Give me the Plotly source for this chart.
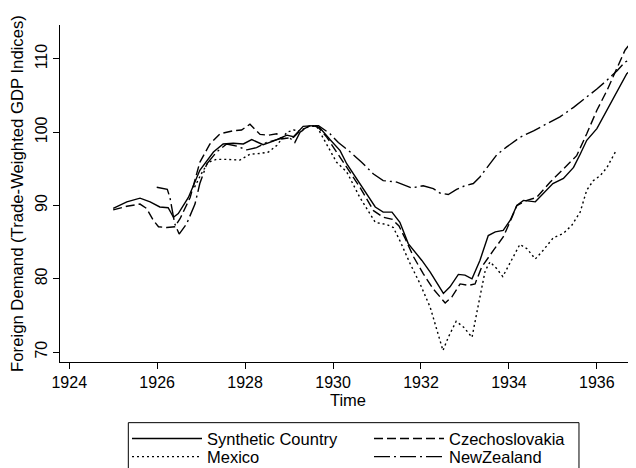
import plotly.graph_objects as go

# ---- data ----
synth_t = [1925.0, 1925.31, 1925.61, 1925.84, 1926.06, 1926.25, 1926.37, 1926.48, 1926.71, 1926.97,
           1927.28, 1927.5, 1927.73, 1927.96, 1928.15, 1928.41, 1928.64, 1928.95, 1929.1, 1929.32,
           1929.55, 1929.7, 1929.93, 1930.16, 1930.31, 1930.61, 1930.96, 1931.14, 1931.34, 1931.52,
           1931.71, 1932.02, 1932.21, 1932.51, 1932.66, 1932.85, 1933.0, 1933.16, 1933.34, 1933.53,
           1933.69, 1933.87, 1934.03, 1934.18, 1934.33, 1934.6, 1934.78, 1935.0, 1935.24, 1935.47,
           1935.62, 1935.77, 1936.0, 1936.23, 1936.46, 1936.68, 1936.9]
synth_v = [89.6, 90.5, 91.0, 90.5, 89.8, 89.7, 88.4, 88.9, 91.1, 94.8,
           97.3, 98.4, 98.5, 98.4, 99.0, 98.3, 98.8, 99.6, 99.4, 100.8,
           100.9, 100.6, 99.0, 97.5, 95.7, 93.0, 89.8, 89.1, 89.1, 87.7,
           84.8, 82.5, 80.9, 78.0, 78.9, 80.6, 80.5, 80.0, 82.5, 85.9,
           86.4, 86.6, 88.0, 90.0, 90.7, 90.5, 91.6, 93.0, 93.7, 95.2,
           97.0, 98.9, 100.5, 103.0, 105.7, 108.0, 109.1]

czech_t = [1925.0, 1925.31, 1925.61, 1925.76, 1925.91, 1926.03, 1926.22, 1926.4, 1926.52, 1926.75,
           1926.97, 1927.2, 1927.43, 1927.73, 1927.92, 1928.11, 1928.34, 1928.53, 1928.72, 1928.83,
           1929.1, 1929.25, 1929.48, 1929.63, 1929.86, 1930.08, 1930.31, 1930.61, 1930.92, 1931.14,
           1931.35, 1931.5, 1931.64, 1931.83, 1932.05, 1932.28, 1932.55, 1932.7, 1932.89, 1933.08,
           1933.23, 1933.38, 1933.65, 1933.87, 1934.07, 1934.18, 1934.41, 1934.63, 1934.94, 1935.24,
           1935.54, 1935.77, 1936.0, 1936.23, 1936.46, 1936.64, 1936.87]
czech_v = [89.4, 89.9, 90.2, 89.6, 88.0, 87.1, 87.0, 87.1, 88.2, 91.1,
           95.9, 98.4, 99.8, 100.2, 100.3, 101.1, 99.7, 99.6, 99.8, 99.1,
           99.3, 100.2, 100.9, 100.9, 99.3, 97.3, 95.2, 92.5, 89.3, 88.4,
           88.1, 87.2, 85.5, 83.0, 80.7, 78.6, 76.7, 77.5, 79.3, 79.1,
           79.3, 81.6, 83.9, 85.7, 88.4, 90.0, 90.7, 91.1, 93.2, 95.0,
           96.8, 99.8, 103.0, 105.7, 108.9, 111.2, 113.0]

mexico_t = [1926.85, 1927.0, 1927.16, 1927.35, 1927.58, 1927.88, 1928.11, 1928.34, 1928.53, 1928.72,
            1928.95, 1929.1, 1929.25, 1929.44, 1929.63, 1929.86, 1930.08, 1930.31, 1930.61, 1930.96,
            1931.22, 1931.37, 1931.52, 1931.75, 1931.98, 1932.21, 1932.36, 1932.5, 1932.62, 1932.8,
            1932.97, 1933.16, 1933.31, 1933.46, 1933.57, 1933.72, 1933.86, 1934.03, 1934.25, 1934.41,
            1934.6, 1934.78, 1935.01, 1935.24, 1935.43, 1935.62, 1935.77, 1935.92, 1936.08, 1936.23,
            1936.42]
mexico_v = [92.5, 94.3, 95.9, 96.3, 96.3, 96.2, 97.0, 97.1, 97.3, 98.2,
            100.0, 100.3, 100.2, 100.8, 100.8, 98.4, 95.9, 94.6, 91.1, 87.7,
            87.4, 87.0, 85.2, 82.1, 79.3, 76.1, 73.0, 70.2, 72.0, 74.2,
            73.4, 72.0, 76.6, 81.1, 82.3, 81.4, 80.3, 82.3, 84.7, 84.1,
            82.7, 83.9, 85.6, 86.2, 87.3, 89.1, 92.1, 93.4, 94.1, 95.2,
            97.3]

nz_t = [1925.99, 1926.23, 1926.29, 1926.4, 1926.5, 1926.67, 1926.86, 1926.97, 1927.13, 1927.35,
        1927.58, 1927.81, 1928.04, 1928.26, 1928.49, 1928.79, 1929.02, 1929.13, 1929.25, 1929.44,
        1929.67, 1929.93, 1930.12, 1930.39, 1930.65, 1930.92, 1931.14, 1931.45, 1931.79, 1932.05,
        1932.28, 1932.43, 1932.62, 1932.81, 1933.0, 1933.19, 1933.34, 1933.5, 1933.72, 1933.95,
        1934.25, 1934.56, 1934.86, 1935.16, 1935.47, 1935.77, 1936.0, 1936.23, 1936.46, 1936.64,
        1936.9]
nz_v = [92.5, 92.2, 91.1, 87.5, 86.1, 87.5, 90.2, 93.0, 95.7, 97.3,
        98.4, 98.1, 97.6, 97.9, 98.6, 99.1, 99.2, 98.6, 100.0, 100.8,
        100.9, 99.8, 98.6, 97.3, 95.9, 94.3, 93.4, 93.2, 92.4, 92.7,
        92.3, 91.7, 91.5, 92.2, 92.7, 93.0, 93.9, 95.2, 96.9, 98.0,
        99.3, 100.2, 101.2, 102.1, 103.4, 104.8, 105.9, 107.1, 108.4, 109.6,
        110.2]

x_ticks = [1924, 1926, 1928, 1930, 1932, 1934, 1936]
y_ticks = [70, 80, 90, 100, 110]

FONT = "Liberation Sans, Arial, Helvetica, sans-serif"

fig = go.Figure()
series = [
    ("Synthetic Country", synth_t, synth_v, "solid", "legend"),
    ("Czechoslovakia", czech_t, czech_v, "9px,4px", "legend"),
    ("Mexico", mexico_t, mexico_v, "2px,3px", "legend2"),
    ("NewZealand", nz_t, nz_v, "16px,4px,2px,4px", "legend2"),
]
for name, t, v, dash, lg in series:
    fig.add_trace(go.Scatter(x=t, y=v, mode="lines", name=name, legend=lg,
                             line=dict(color="black", width=1.4, dash=dash)))

legend_common = dict(
    orientation="h", xanchor="left", yanchor="top",
    borderwidth=0, bgcolor="rgba(0,0,0,0)",
    entrywidth=157, entrywidthmode="pixels", itemwidth=70,
    traceorder="normal", font=dict(size=16.5, family=FONT),
)

# the page body adds an 8px margin, so the figure is sized to fit the 636x468 window
fig.update_layout(
    width=628, height=460,
    margin=dict(l=52, r=0, t=17, b=106, autoexpand=False),
    paper_bgcolor="white", plot_bgcolor="white",
    font=dict(family=FONT, size=16, color="black"),
    showlegend=True,
    legend=dict(x=0.1163, y=-0.1761, **legend_common),
    legend2=dict(x=0.1163, y=-0.2296, **legend_common),
    shapes=[dict(type="rect", xref="paper", yref="paper",
                 x0=0.1186, x1=0.901, y0=-0.180, y1=-0.40,
                 line=dict(color="black", width=1), fillcolor="rgba(0,0,0,0)",
                 layer="below")],
)
fig.update_xaxes(
    range=[1923.79, 1936.89], tickvals=x_ticks, ticktext=[str(v) for v in x_ticks],
    showline=True, linecolor="black", linewidth=1, ticks="outside", ticklen=6,
    tickcolor="black", showgrid=False, zeroline=False,
    title=dict(text="Time", standoff=0, font=dict(size=16.5)),
)
fig.update_yaxes(
    range=[68.64, 114.64], tickvals=y_ticks, ticktext=[str(v) for v in y_ticks],
    tickangle=-90, showline=True, linecolor="black", linewidth=1, ticks="outside",
    ticklen=6, tickcolor="black", showgrid=False, zeroline=False,
    title=dict(text="Foreign Demand (Trade-Weighted GDP Indices)", standoff=5, font=dict(size=16.7)),
)
fig.write_html("out.html")
